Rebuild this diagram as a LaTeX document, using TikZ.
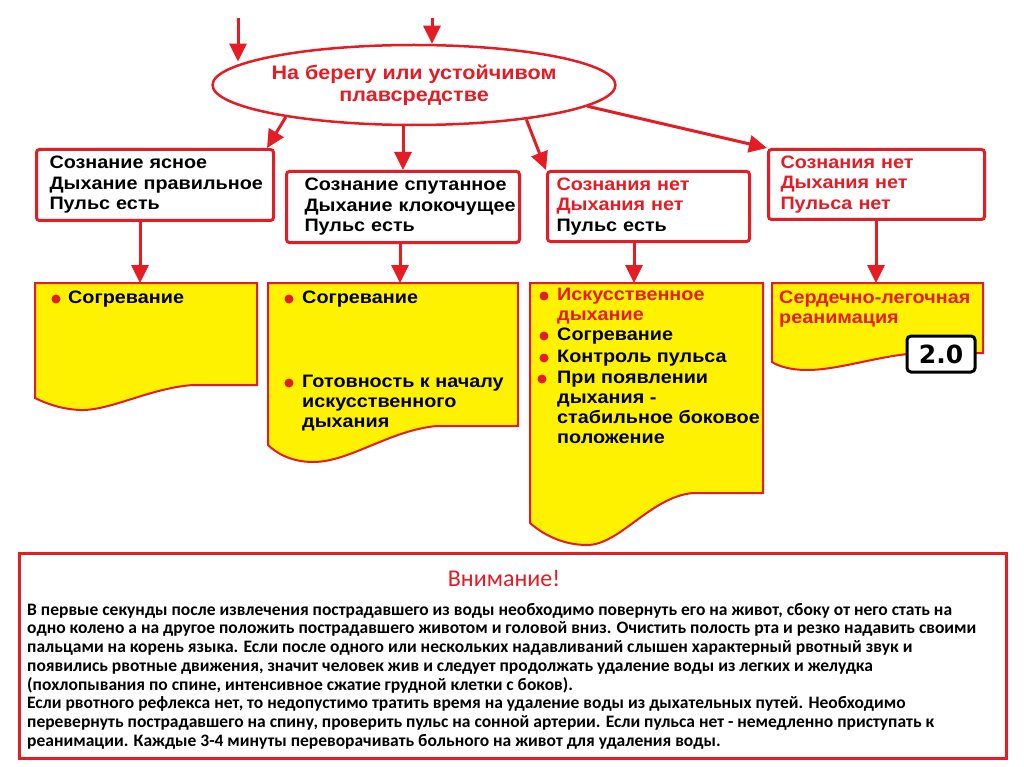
\documentclass[tikz,border=0pt]{standalone}
\usepackage{fontspec}
\setmainfont{Liberation Sans}
\newfontfamily\widefont[FakeStretch=1.1]{Liberation Sans}
\newfontfamily\notefont{Carlito}
\newfontfamily\badgefont{DejaVu Sans}
\usetikzlibrary{shapes.geometric, arrows.meta, positioning}
\definecolor{alarmred}{RGB}{229,28,36}
\definecolor{noteyellow}{RGB}{255,242,0}

\begin{document}
\begin{tikzpicture}[x=1pt, y=-1pt,
	flow/.style={-{Triangle[length=18pt,width=17pt]}, line width=3pt, draw=alarmred},
	statebox/.style={draw=alarmred, line width=3pt, rounded corners=3pt, fill=white, align=left,
		inner ysep=0pt, anchor=north west, font=\widefont\fontsize{18}{20.5}\selectfont\bfseries},
	sheet/.style={draw=alarmred, line width=2pt, fill=noteyellow},
	item/.style={anchor=north west, inner sep=0pt, align=left, font=\widefont\fontsize{18}{20}\selectfont\bfseries},
	bulletdot/.style={fill=alarmred}]
	\useasboundingbox[fill=white] (0,0) rectangle (1024,767);
	
	% Where the victim is
	\node[draw=alarmred, line width=2.5pt, ellipse, minimum width=395pt, minimum height=80pt, inner sep=0pt,
		align=center, text=alarmred, font=\widefont\fontsize{19.6}{22}\selectfont\bfseries] (shore) at (414,85)
		{На берегу или устойчивом\\плавсредстве};
	\coordinate (from1) at (238,18);
	\coordinate (from2) at (432,18);
	\draw[flow] (from1) -- (from1 |- shore.172);
	\draw[flow] (from2) -- (from2 |- shore.north);
	
	% State of the victim
	\node[statebox, text width=211pt, inner xsep=13pt, minimum height=71pt] (clear) at (35,148)
		{Сознание~ясное\\Дыхание~правильное\\Пульс~есть};
	\node[statebox, text width=197pt, inner xsep=18pt, minimum height=71pt] (confused) at (285,170)
		{Сознание~спутанное\\Дыхание~клокочущее\\Пульс~есть};
	\node[statebox, text width=184pt, inner xsep=9pt, minimum height=70pt] (nobreath) at (546,170)
		{\textcolor{alarmred}{Сознания~нет}\\\textcolor{alarmred}{Дыхания~нет}\\Пульс~есть};
	\node[statebox, text width=192pt, inner xsep=12pt, minimum height=70pt, text=alarmred] (nopulse) at (767,148)
		{Сознания~нет\\Дыхания~нет\\Пульса~нет};
	
	\draw[flow] (shore.194) -- ([xshift=-8pt]clear.north east);
	\draw[flow] (shore.south -| confused.north) -- (confused.north);
	\draw[flow] (shore.-17) -- (nobreath.north west);
	\draw[flow] (shore.-7) -- (nopulse.north west);
	
	% What to do
	\draw[sheet] (35,283) -- (257,283) -- (257,385) -- (193,385)
		.. controls (150,388) and (110,411) .. (80,410) .. controls (60,409) and (45,403) .. (35,398) -- cycle;
	\draw[sheet] (268,283) -- (518,283) -- (518,426) -- (437,426)
		.. controls (390,430) and (350,462) .. (313,462) .. controls (290,462) and (275,452) .. (268,445) -- cycle;
	\draw[sheet] (530,283) -- (763,283) -- (763,493) -- (693,493)
		.. controls (650,497) and (620,545) .. (587,545) .. controls (560,545) and (540,532) .. (530,523) -- cycle;
	\draw[sheet] (772,283) -- (983,283) -- (983,353) -- (920,353)
		.. controls (880,355) and (840,370) .. (807,370) .. controls (790,370) and (778,366) .. (772,362) -- cycle;
	
	\coordinate (sheet1) at (140,283);
	\coordinate (sheet2) at (400,283);
	\coordinate (sheet3) at (634,283);
	\coordinate (sheet4) at (876,283);
	\draw[flow] (clear.south -| sheet1) -- (sheet1);
	\draw[flow] (confused.south -| sheet2) -- (sheet2);
	\draw[flow] (nobreath.south -| sheet3) -- (sheet3);
	\draw[flow] (nopulse.south -| sheet4) -- (sheet4);
	
	\fill[bulletdot] (56,299) circle (4.5);
	\node[item] (warm1) at (68,291) {Согревание};
	
	\fill[bulletdot] (289,299) circle (4.5);
	\fill[bulletdot] (289,383) circle (4.5);
	\node[item] (warm2) at (302,291) {Согревание};
	\node[item] (ready) at (302,375) {Готовность к началу\\искусственного\\дыхания};
	
	\fill[bulletdot] (544,296) circle (4.5);
	\fill[bulletdot] (544,336) circle (4.5);
	\fill[bulletdot] (544,358) circle (4.5);
	\fill[bulletdot] (542,379) circle (4.5);
	\node[item, text=alarmred] (breath) at (557,288) {Искусственное\\дыхание};
	\node[item] (warm3) at (557,328) {Согревание};
	\node[item] (pulse) at (557,350) {Контроль пульса};
	\node[item] (turn) at (557,371) {При появлении\\дыхания -\\стабильное боковое\\положение};
	
	\node[item, text=alarmred] (cpr) at (779,291) {Сердечно-легочная\\реанимация};
	\node[draw=black, line width=3pt, rounded corners=4pt, fill=white, minimum width=68pt, minimum height=36pt,
		font=\badgefont\fontsize{25}{25}\selectfont\bfseries] (grade) at (941,354) {2.0};
	
	% Attention note
	\node[draw=alarmred, line width=3pt, minimum width=987pt, minimum height=205pt, anchor=north west,
		inner sep=0pt] (note) at (18,552) {};
	\node[text=alarmred, font=\notefont\fontsize{24}{24}\selectfont] (attention) at (504,578) {Внимание!};
	\node[anchor=north west, inner sep=0pt, align=left, font=\notefont\fontsize{17.5}{18.7}\selectfont\bfseries] (advice) at (27,603)
		{В первые секунды после извлечения пострадавшего из воды необходимо повернуть его на живот, сбоку от него стать на\\
		одно колено а на другое положить пострадавшего животом и головой вниз. Очистить полость рта и резко надавить своими\\
		пальцами на корень языка. Если после одного или нескольких надавливаний слышен характерный рвотный звук и\\
		появились рвотные движения, значит человек жив и следует продолжать удаление воды из легких и желудка\\
		(похлопывания по спине, интенсивное сжатие грудной клетки с боков).\\
		Если рвотного рефлекса нет, то недопустимо тратить время на удаление воды из дыхательных путей. Необходимо\\
		перевернуть пострадавшего на спину, проверить пульс на сонной артерии. Если пульса нет - немедленно приступать к\\
		реанимации. Каждые 3-4 минуты переворачивать больного на живот для удаления воды.};
\end{tikzpicture}
\end{document}
